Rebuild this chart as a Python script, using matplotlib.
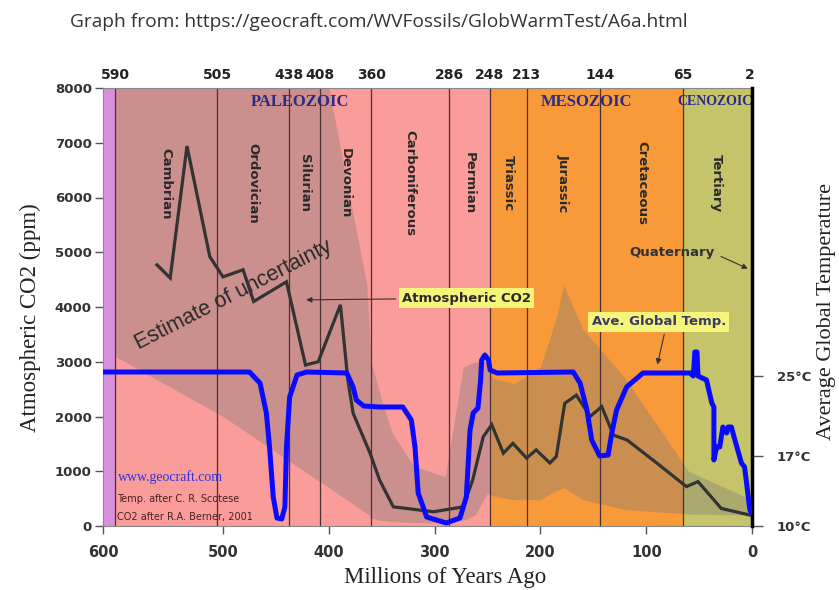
import numpy as np
import matplotlib
matplotlib.use('Agg')
import matplotlib.pyplot as plt

# --- data ---
co2_age = [555, 544, 530, 511, 500, 481, 471, 440, 422, 410, 389, 382, 377, 361, 352, 339,
           301, 273, 264, 254, 246, 235, 226, 213, 204, 191, 185, 177, 166, 153, 142, 131,
           118, 90, 62, 51, 29, 2]
co2_ppm = [4770, 4530, 6940, 4920, 4550, 4680, 4100, 4460, 2940, 3000, 4040, 2670, 2060, 1330,
           840, 350, 260, 350, 840, 1630, 1850, 1330, 1510, 1240, 1390, 1150, 1270, 2240, 2390,
           2000, 2180, 1660, 1570, 1150, 720, 810, 320, 200]

temp_age = [600, 475, 465, 459, 456, 452.5, 449, 444.5, 441.5, 440, 437, 430, 421, 383, 377,
            374, 367, 352, 330, 322, 318.5, 315.5, 307.5, 289, 276, 270, 266.5, 263.5, 259,
            256.5, 255.5, 252.5, 249, 247.5, 241, 169, 162.5, 156, 151.5, 144, 136, 132.5, 128,
            118.5, 103, 58.5, 55.5, 54, 52, 51, 43, 38, 36, 36, 33.5, 30.5, 27.5, 24, 22.5,
            19.5, 18, 10, 7, 2, 0.5]
temp_c = [25.4, 25.4, 24.3, 21.3, 17.9, 12.9, 10.8, 10.7, 11.9, 17.9, 22.9, 25.1, 25.4, 25.3,
          23.9, 22.6, 22.0, 21.9, 21.9, 20.6, 17.9, 13.3, 10.9, 10.3, 10.8, 12.9, 19.6, 21.3,
          21.8, 24.6, 26.6, 27.1, 26.6, 25.6, 25.3, 25.4, 24.3, 21.6, 18.6, 17.0, 17.1, 19.3,
          21.6, 23.9, 25.3, 25.3, 25.0, 27.4, 27.4, 25.0, 24.6, 22.3, 21.9, 16.6, 17.9, 17.9,
          19.9, 19.3, 19.9, 19.9, 19.3, 16.3, 15.9, 11.6, 11.3]

# uncertainty band around the CO2 curve
band_age = [590, 500, 450, 400, 364, 360, 350, 340, 320, 290, 273, 262, 250, 245, 225, 200,
            185, 178, 160, 120, 60, 0]
band_hi = [8000, 8000, 8000, 8000, 4400, 3000, 2300, 1700, 1100, 900, 2900, 3000, 3000, 2700,
           2600, 2900, 3800, 4400, 3600, 2700, 1000, 480]
band_lo = [3100, 2000, 1350, 700, 230, 150, 100, 80, 60, 60, 100, 200, 600, 550, 480, 480,
           650, 700, 480, 300, 220, 200]

bounds = [590, 505, 438, 408, 360, 286, 248, 213, 144, 65, 2]
periods = ['Cambrian', 'Ordovician', 'Silurian', 'Devonian', 'Carboniferous', 'Permian',
           'Triassic', 'Jurassic', 'Cretaceous', 'Tertiary']
x_ticks = [600, 500, 400, 300, 200, 100, 0]
co2_ticks = [0, 1000, 2000, 3000, 4000, 5000, 6000, 7000, 8000]
temp_ticks = [10, 17, 25]


# the original picture is stretched a bit left of 500 Ma
def fwd(x):
    x = np.asarray(x, dtype=float)
    return np.where(x > 500, 500 + (x - 500) * 1.134, x)


def inv(y):
    y = np.asarray(y, dtype=float)
    return np.where(y > 500, 500 + (y - 500) / 1.134, y)


serif = 'Liberation Serif'
W, H = 839, 590
fig = plt.figure(figsize=(8.39, 5.9), dpi=100)
ax = fig.add_axes([103 / W, 1 - 526 / H, 649 / W, 438 / H])
ax.set_xscale('function', functions=(fwd, inv))
ax.set_xlim(600, 0)
ax.set_ylim(0, 8000)

# era backgrounds
ax.axvspan(600, 590, color='#d88fdc', lw=0, zorder=0)
ax.axvspan(590, 248, color='#fa9c9a', lw=0, zorder=0)
ax.axvspan(248, 65, color='#f89a3a', lw=0, zorder=0)
ax.axvspan(65, 0, color='#c6c46a', lw=0, zorder=0)

ax.fill_between(band_age, band_lo, band_hi, color='#7a7a7a', alpha=0.36, lw=0, zorder=1)
ax.vlines(bounds[:-1], 0, 8000, color='#4a3030', lw=0.9, zorder=2)

for i, name in enumerate(periods):
    ax.text((bounds[i] + bounds[i + 1]) / 2, 6260, name, rotation=-90, ha='center', va='center',
            fontsize=9.5, fontweight='bold', color='#2a2a2a', zorder=3)

ax.text(427, 7745, 'PALEOZOIC', family=serif, fontweight='bold', fontsize=12,
        color='#2b2b85', ha='center', va='center')
ax.text(156, 7745, 'MESOZOIC', family=serif, fontweight='bold', fontsize=12,
        color='#2b2b85', ha='center', va='center')
ax.text(35, 7745, 'CENOZOIC', family=serif, fontweight='bold', fontsize=10,
        color='#2b2b85', ha='center', va='center')

ax.plot(co2_age, co2_ppm, color='#333333', lw=2.3, zorder=4, solid_joinstyle='miter')

ax.text(490, 4220, 'Estimate of uncertainty', family='Liberation Sans', fontsize=15.5,
        rotation=27, rotation_mode='anchor', ha='center', va='center', color='#2a2a2a')

ax.annotate('Atmospheric CO2', xy=(424, 4130), xytext=(270, 4160), ha='center', va='center',
            fontsize=9.5, fontweight='bold', color='#2a2a2a', zorder=6,
            bbox=dict(boxstyle='square,pad=0.25', fc='#f5f57a', ec='none'),
            arrowprops=dict(arrowstyle='-|>', color='#333333', lw=0.8, mutation_scale=8))
ax.annotate('Ave. Global Temp.', xy=(90, 2900), xytext=(88, 3730), ha='center', va='center',
            fontsize=9.5, fontweight='bold', color='#3a3a6a', zorder=6,
            bbox=dict(boxstyle='square,pad=0.25', fc='#f5f57a', ec='none'),
            arrowprops=dict(arrowstyle='-|>', color='#333333', lw=0.8, mutation_scale=8,
                            relpos=(0.55, 0)))
ax.annotate('Quaternary', xy=(1.5, 4680), xytext=(76, 4990), ha='center', va='center',
            fontsize=9.5, fontweight='bold', color='#333333', zorder=6,
            arrowprops=dict(arrowstyle='-|>', color='#333333', lw=0.8, mutation_scale=8,
                            relpos=(1.05, 0.3)))

ax.text(587.5, 895, 'www.geocraft.com', family=serif, fontsize=10, color='#3333dd',
        ha='left', va='center', zorder=6)
ax.text(588, 493, 'Temp. after C. R. Scotese', fontsize=7, color='#4a2020',
        ha='left', va='center', zorder=6)
ax.text(588, 164, 'CO2 after R.A. Berner, 2001', fontsize=7, color='#4a2020',
        ha='left', va='center', zorder=6)

ax.set_xticks(x_ticks)
ax.set_xticklabels([str(v) for v in x_ticks], fontweight='bold', fontsize=10.5, color='#333333')
ax.set_yticks(co2_ticks)
ax.set_yticklabels([str(v) for v in co2_ticks], fontweight='bold', fontsize=9.5, color='#333333')
ax.tick_params(axis='y', length=6, width=1, color='#555555', pad=2)
ax.tick_params(axis='x', length=6, width=1, color='#555555', pad=8)
for s in ['left', 'bottom', 'top']:
    ax.spines[s].set_color('#888888')
ax.spines['right'].set_visible(False)

# temperature axis
tax = ax.twinx()
tax.set_ylim(10, 53.8)
tax.plot(temp_age, temp_c, color='#0a0aff', lw=3.6, solid_joinstyle='round',
         solid_capstyle='round', zorder=5)
tax.set_yticks(temp_ticks)
tax.set_yticklabels([f'{t}°C' for t in temp_ticks], fontweight='bold', fontsize=9.5,
                    color='#333333')
tax.tick_params(length=8, width=1, color='#555555', pad=10)
for s in ['left', 'bottom', 'top']:
    tax.spines[s].set_visible(False)
tax.spines['right'].set_color('black')
tax.spines['right'].set_linewidth(2.5)

# period boundary labels along the top
top = ax.twiny()
top.set_xscale('function', functions=(fwd, inv))
top.set_xlim(600, 0)
top.set_xticks(bounds)
top.set_xticklabels([str(b) for b in bounds], fontweight='bold', fontsize=10, color='#222222')
top.tick_params(length=0, pad=4)
for s in top.spines.values():
    s.set_visible(False)

fig.text(30 / W, 1 - 318 / H, 'Atmospheric CO2 (ppm)', family=serif, fontsize=16.5,
         color='#222222', rotation=90, ha='center', va='center')
fig.text(445 / W, 1 - 578 / H, 'Millions of Years Ago', family=serif, fontsize=16.5,
         color='#222222', ha='center', va='center')
fig.text(826 / W, 1 - 312 / H, 'Average Global Temperature', family=serif, fontsize=16,
         color='#222222', rotation=90, ha='center', va='center')

fig.text(70 / W, 1 - 22 / H, 'Graph from: https://geocraft.com/WVFossils/GlobWarmTest/A6a.html',
         family='Open Sans', fontsize=13.8, color='#333333', ha='left', va='center')

fig.savefig('out.png', dpi=100)
